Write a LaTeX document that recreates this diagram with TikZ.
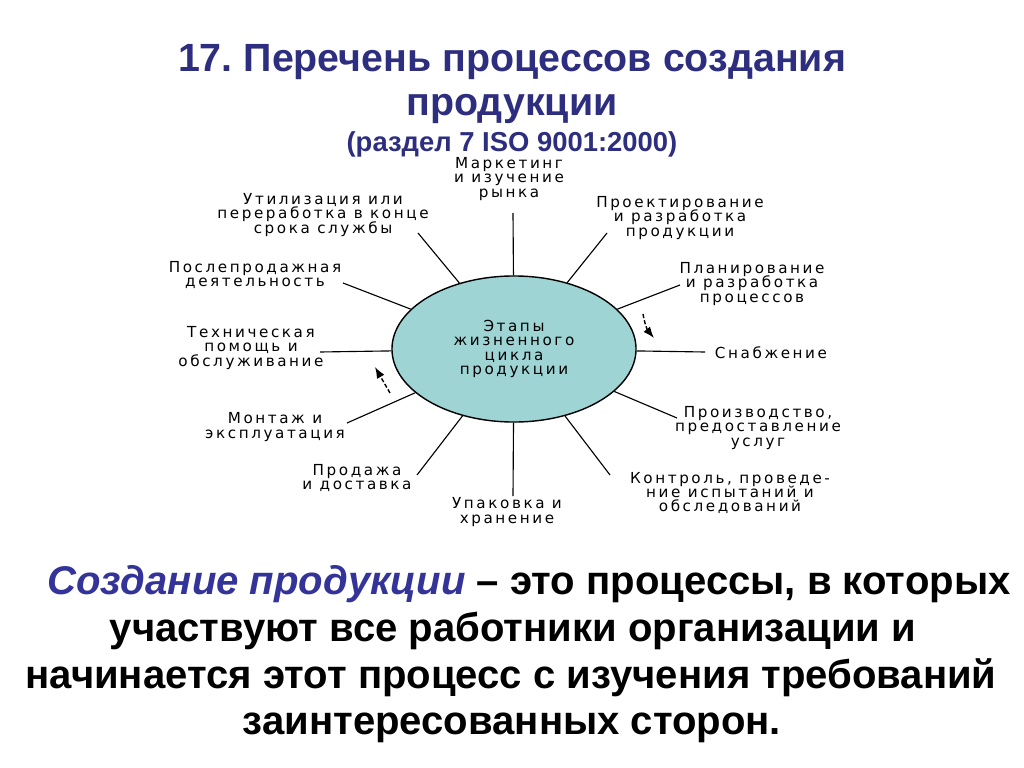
\documentclass[tikz,border=0pt]{standalone}
\usepackage{fontspec}
\setmainfont{Liberation Sans}
\newfontfamily\labelfont[LetterSpace=17]{DejaVu Sans}
\usetikzlibrary{shapes.geometric,arrows.meta}
\definecolor{titleblue}{HTML}{2E2E80}
\definecolor{termblue}{HTML}{333399}
\definecolor{stagefill}{HTML}{9ED4D4}
\frenchspacing

\begin{document}
\begin{tikzpicture}[x=0.025cm,y=-0.025cm,
    title/.style={font=\bfseries\fontsize{28}{30}\selectfont, text=titleblue, anchor=base},
    stage/.style={font={\labelfont\fontsize{10.8}{10.3}\selectfont\lineskiplimit=-\maxdimen}, align=center, inner sep=0pt},
    spoke/.style={line width=0.8pt},
    hint/.style={line width=1pt, dash pattern=on 3pt off 1.5pt, -{Latex[length=8pt,width=6pt]}},
    body/.style={font=\bfseries\fontsize{28.5}{34}\selectfont, anchor=base}]
        \useasboundingbox (0,0) rectangle (1024,768);
        \node [title] (T1) at (512, 72)  {17. Перечень процессов создания};
        \node [title] (T2) at (512, 116) {продукции};
        \node [title, font=\bfseries\fontsize{19.5}{22}\selectfont] (T3) at (512, 152) {(раздел 7 ISO 9001:2000)};
        \node [ellipse, draw, line width=1pt, fill=stagefill, minimum width=6.1cm, minimum height=3.65cm,
               stage] (C) at (514, 349) {Этапы\\жизненного\\цикла\\продукции};
        \node [stage] (S1)  at (509, 179) {Маркетинг\\и изучение\\рынка};
        \node [stage] (S2)  at (680, 218) {Проектирование\\и разработка\\продукции};
        \node [stage] (S3)  at (752, 284) {Планирование\\и разработка\\процессов};
        \node [stage] (S4)  at (771, 353) {Снабжение};
        \node [stage] (S5)  at (758, 428) {Производство,\\предоставление\\услуг};
        \node [stage] (S6)  at (730, 493) {Контроль, проведе-\\ние испытаний и\\обследований};
        \node [stage] (S7)  at (507, 512) {Упаковка и\\хранение};
        \node [stage] (S8)  at (357, 478) {Продажа\\и доставка};
        \node [stage] (S9)  at (275, 427) {Монтаж и\\эксплуатация};
        \node [stage] (S10) at (251, 348) {Техническая\\помощь и\\обслуживание};
        \node [stage] (S11) at (255, 275) {Послепродажная\\деятельность};
        \node [stage] (S12) at (323, 215) {Утилизация или\\переработка в конце\\срока службы};
        \coordinate (E1)  at (513, 213);
        \coordinate (E2)  at (607, 233);
        \coordinate (E3)  at (680, 285);
        \coordinate (E4)  at (705, 352);
        \coordinate (E5)  at (677, 418);
        \coordinate (E6)  at (610, 475);
        \coordinate (E7)  at (513, 496);
        \coordinate (E8)  at (417, 475);
        \coordinate (E9)  at (347, 423);
        \coordinate (E10) at (320, 352);
        \coordinate (E11) at (343, 283);
        \coordinate (E12) at (418, 233);
        \draw [spoke] (C) -- (E1);
        \draw [spoke] (C) -- (E2);
        \draw [spoke] (C) -- (E3);
        \draw [spoke] (C) -- (E4);
        \draw [spoke] (C) -- (E5);
        \draw [spoke] (C) -- (E6);
        \draw [spoke] (C) -- (E7);
        \draw [spoke] (C) -- (E8);
        \draw [spoke] (C) -- (E9);
        \draw [spoke] (C) -- (E10);
        \draw [spoke] (C) -- (E11);
        \draw [spoke] (C) -- (E12);
        \coordinate (A1s) at (390, 393);
        \coordinate (A1e) at (375, 367);
        \coordinate (A2s) at (643, 314);
        \coordinate (A2e) at (654, 338);
        \draw [hint] (A1s) -- (A1e);
        \draw [hint] (A2s) to [bend right=15] (A2e);
        \node [body] (B1) at (529, 594) {{\color{termblue}\itshape Создание продукции} – это процессы, в которых};
        \node [body] (B2) at (513, 641) {участвуют все работники организации и};
        \node [body] (B3) at (511, 688) {начинается этот процесс с изучения требований};
        \node [body] (B4) at (512, 734) {заинтересованных сторон.};
\end{tikzpicture}
\end{document}
